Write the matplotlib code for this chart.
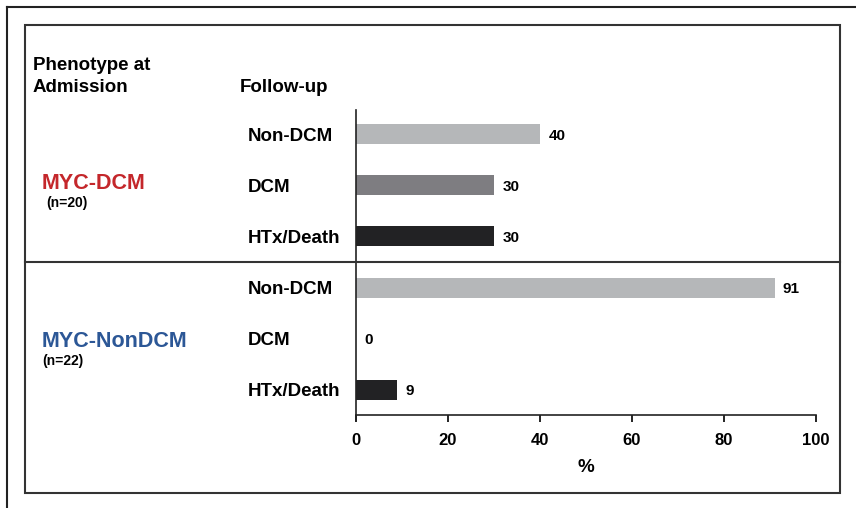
import matplotlib
matplotlib.use("Agg")
import matplotlib.pyplot as plt
from matplotlib.lines import Line2D
from matplotlib.patches import Rectangle

# ---- data ----
outcomes = ["Non-DCM", "DCM", "HTx/Death", "Non-DCM", "DCM", "HTx/Death"]
groups = ["MYC-DCM", "MYC-NonDCM"]
group_n = ["(n=20)", "(n=22)"]
percent = [40, 30, 30, 91, 0, 9]
bar_colors = ["#b5b7b9", "#7e7d81", "#222224", "#b5b7b9", "#7e7d81", "#222224"]
xticks = [0, 20, 40, 60, 80, 100]

W, H = 856, 508
plt.rcParams['font.family'] = ['Liberation Sans', 'DejaVu Sans']
fig = plt.figure(figsize=(W / 100, H / 100), dpi=100)

def fx(px):
    return px / W

def fy(py):
    return 1 - py / H

# axes: x 356..816 px, y 110..415 px
ax = fig.add_axes([fx(356), fy(415), fx(816) - fx(356), fy(110) - fy(415)])

ypos = list(range(len(percent)))
bars = ax.barh(ypos, percent, height=0.39, color=bar_colors, edgecolor='none')
texts = ax.bar_label(bars, labels=[str(v) for v in percent], padding=6,
                     fontsize=11, fontweight='bold')
for t in texts:
    t.set_va('center_baseline')

ax.set_ylim(5.49, -0.47)
ax.set_xlim(0, 100)
ax.set_xticks(xticks)
ax.set_xticklabels([str(t) for t in xticks], fontsize=12, fontweight='bold')
ax.tick_params(axis='x', length=5, width=1.2, pad=8)
ax.set_yticks(ypos)
ax.set_yticklabels(outcomes, fontsize=13.5, fontweight='bold', ha='left')
ax.tick_params(axis='y', length=0, pad=78)
ax.set_xlabel("%", fontsize=13.5, fontweight='bold', labelpad=8)
for s in ['top', 'right']:
    ax.spines[s].set_visible(False)
for s in ['left', 'bottom']:
    ax.spines[s].set_linewidth(1.2)
    ax.spines[s].set_color('#222222')
ax.spines['left'].set_bounds(5.49 + 0.1, -0.47)

# frames
fig.add_artist(Line2D([fx(7), fx(7)], [fy(7), fy(H + 2)], color='#222222', lw=1.5))
fig.add_artist(Line2D([fx(7), fx(W + 2)], [fy(7), fy(7)], color='#222222', lw=1.5))
fig.add_artist(Rectangle((fx(25), fy(493)), fx(840) - fx(25), fy(25) - fy(493),
                         fill=False, edgecolor='#333333', lw=1.5))
fig.add_artist(Line2D([fx(25), fx(840)], [fy(262), fy(262)], color='#333333', lw=1.5))

# headers
fig.text(fx(33), fy(70), "Phenotype at", fontsize=13.5, fontweight='bold', va='baseline')
fig.text(fx(33), fy(92), "Admission", fontsize=13.5, fontweight='bold', va='baseline')
fig.text(fx(240), fy(92), "Follow-up", fontsize=13.5, fontweight='bold', va='baseline')

# group labels
fig.text(fx(42), fy(189), groups[0], fontsize=15.5, fontweight='bold',
         color='#c4272b', va='baseline')
fig.text(fx(46), fy(207), group_n[0], fontsize=10, fontweight='bold', va='baseline')
fig.text(fx(42), fy(347), groups[1], fontsize=15.5, fontweight='bold',
         color='#2c5796', va='baseline')
fig.text(fx(42), fy(365), group_n[1], fontsize=10, fontweight='bold', va='baseline')

fig.savefig("out.png", dpi=100)
